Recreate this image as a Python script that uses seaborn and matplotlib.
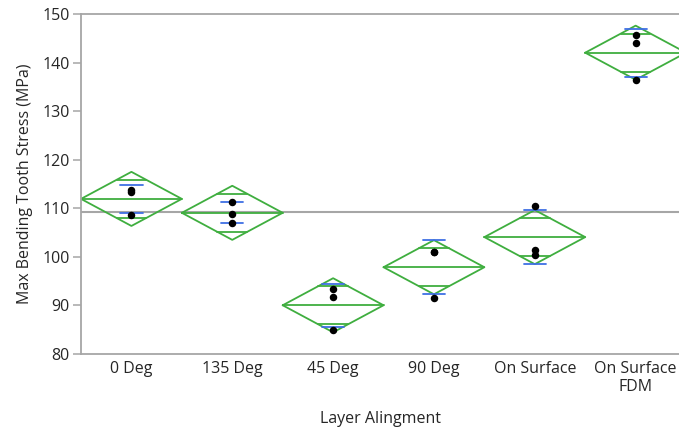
import numpy as np
import pandas as pd
import matplotlib
matplotlib.use("Agg")
import matplotlib.pyplot as plt
import seaborn as sns

# Layer alignment groups and their three measured stresses (MPa)
categories = ["0 Deg", "135 Deg", "45 Deg", "90 Deg", "On Surface", "On Surface FDM"]
tick_labels = ["0 Deg", "135 Deg", "45 Deg", "90 Deg", "On Surface", "On Surface\nFDM"]
stress_0deg = [113.8, 113.3, 108.7]
stress_135deg = [111.3, 108.9, 107.0]
stress_45deg = [93.4, 91.7, 85.0]
stress_90deg = [101.1, 101.0, 91.5]
stress_surface = [110.4, 101.5, 100.3]
stress_surface_fdm = [145.7, 144.0, 136.4]

groups = [stress_0deg, stress_135deg, stress_45deg, stress_90deg,
          stress_surface, stress_surface_fdm]
df = pd.DataFrame({
    "Layer Alingment": np.repeat(categories, [len(g) for g in groups]),
    "Stress": np.concatenate(groups),
})

# One-way ANOVA pieces for the means diamonds (pooled SD, 95% CI)
stats = df.groupby("Layer Alingment", sort=False)["Stress"].agg(["mean", "std", "count"])
stats = stats.loc[categories]
resid_ss = sum(((np.array(g) - np.mean(g)) ** 2).sum() for g in groups)
dof = len(df) - len(categories)          # 12
pooled_sd = np.sqrt(resid_ss / dof)
T_975 = 2.1788                           # t quantile, 0.975, 12 df
grand_mean = df["Stress"].mean()

GREEN = "#3fae3f"
BLUE = "#3f6fe4"
GRAY = "#a6a6a6"
TEXT = "#262626"
FS = 11.5
LW = 1.3

sns.set_style("white")
plt.rcParams["font.family"] = ["Open Sans", "DejaVu Sans"]

fig = plt.figure(figsize=(6.79, 4.30), dpi=100)
ax = fig.add_axes([81 / 679, 1 - 354 / 430, 1 - 81 / 679, (354 - 14) / 430])

# grand mean reference line
ax.axhline(grand_mean, color=GRAY, lw=1.5, zorder=1)

for i, cat in enumerate(categories):
    m = stats.loc[cat, "mean"]
    n = stats.loc[cat, "count"]
    sd = stats.loc[cat, "std"]
    h = T_975 * pooled_sd / np.sqrt(n)
    w = 0.5
    # diamond outline
    ax.plot([i - w, i, i + w, i, i - w], [m, m + h, m, m - h, m],
            color=GREEN, lw=LW, zorder=2)
    # mean line
    ax.plot([i - w, i + w], [m, m], color=GREEN, lw=LW, zorder=2)
    # overlap marks
    ov = h * np.sqrt(2) / 2
    half = w * (1 - np.sqrt(2) / 2)
    for y in (m + ov, m - ov):
        ax.plot([i - half, i + half], [y, y], color=GREEN, lw=LW, zorder=2)
    # std dev lines
    for y in (m + sd, m - sd):
        ax.plot([i - 0.11, i + 0.11], [y, y], color=BLUE, lw=LW, zorder=3)

sns.stripplot(data=df, x="Layer Alingment", y="Stress", order=categories,
              jitter=False, color="black", size=5.4, ax=ax, zorder=4)

ax.set_xlim(-0.5, 5.43)
ax.set_ylim(80, 150)
ax.set_yticks(np.arange(80, 151, 10))
ax.set_xticks(range(len(categories)))
ax.set_xticklabels(tick_labels)
ax.set_xticks(np.arange(0.5, 5.0, 1.0), minor=True)
ax.tick_params(axis="x", which="major", length=0, pad=5, labelsize=FS, labelcolor=TEXT)
ax.tick_params(axis="x", which="minor", length=6, width=1.1, color=GRAY, direction="out")
ax.tick_params(axis="y", length=6, width=1.1, color=GRAY, direction="out",
               labelsize=FS, labelcolor=TEXT, pad=2, left=True)

for side in ("left", "top", "bottom"):
    ax.spines[side].set_visible(True)
    ax.spines[side].set_color(GRAY)
    ax.spines[side].set_linewidth(1.3)
ax.spines["right"].set_visible(False)

ax.set_xlabel("Layer Alingment", fontsize=FS, color=TEXT, labelpad=11)
ax.set_ylabel("Max Bending Tooth Stress (MPa)", fontsize=FS, color=TEXT, labelpad=7)

fig.savefig("out.png", dpi=100)
